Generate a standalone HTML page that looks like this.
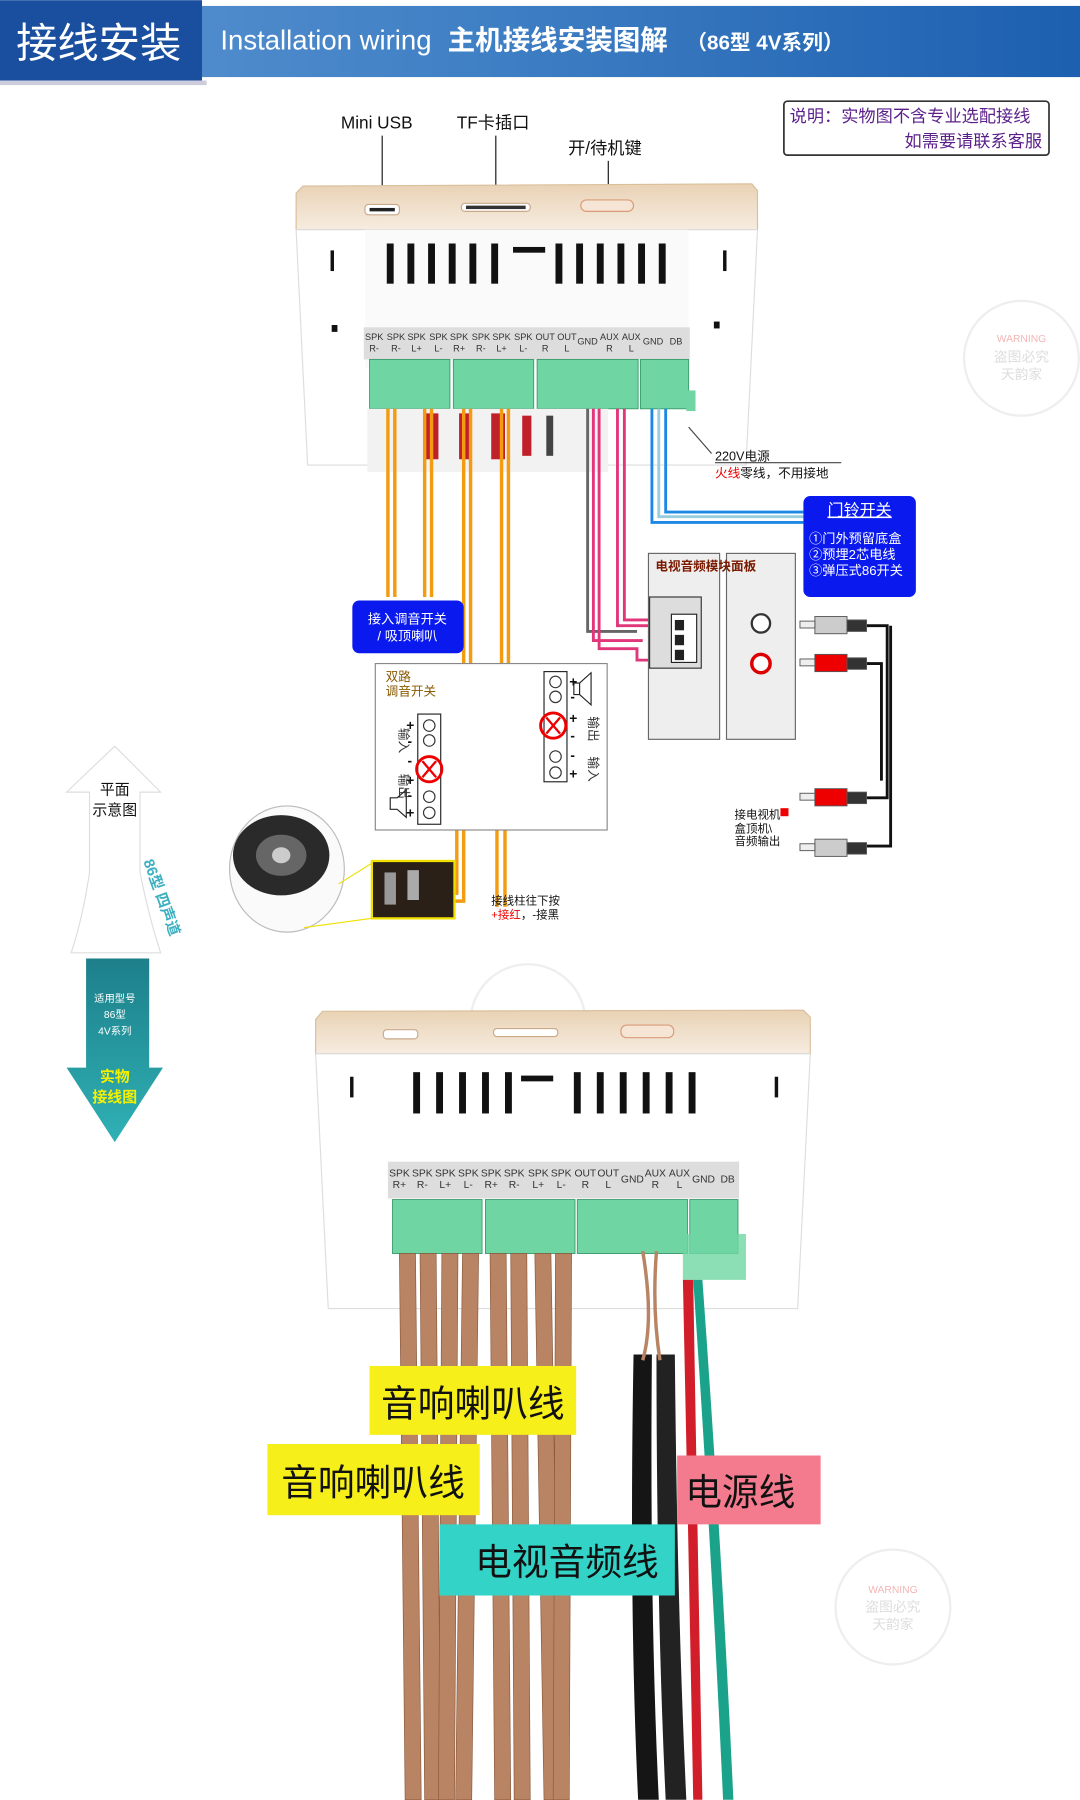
<!DOCTYPE html>
<html><head><meta charset="utf-8"><style>
html,body{margin:0;padding:0;background:#fff;width:1080px;height:1800px;overflow:hidden}
svg{display:block}
text{font-family:"Liberation Sans","Noto Sans CJK SC",sans-serif}
</style></head><body>
<svg width="1080" height="1800" viewBox="0 0 941 1568" xmlns="http://www.w3.org/2000/svg">
<defs>
<linearGradient id="hb" x1="0" x2="1"><stop offset="0" stop-color="#5a94d2"/><stop offset="0.45" stop-color="#3f7fc4"/><stop offset="1" stop-color="#1d5fb0"/></linearGradient>
<linearGradient id="gold" x1="0" y1="0" x2="0" y2="1"><stop offset="0" stop-color="#e9d2b5"/><stop offset="1" stop-color="#f6ece0"/></linearGradient>
<linearGradient id="tealarr" x1="0" y1="0" x2="0" y2="1"><stop offset="0" stop-color="#1d7f8a"/><stop offset="1" stop-color="#2fb1b5"/></linearGradient>
</defs>
<!-- header -->
<rect x="0" y="5" width="941" height="62" fill="url(#hb)"/>
<rect x="0" y="0" width="176" height="70" fill="#1a4f9f"/>
<rect x="0" y="70" width="180" height="4" fill="#ccd"/>
<text x="14" y="50" font-size="36" fill="#fff">接线安装</text>
<text x="192" y="43" font-size="24" fill="#fff">Installation wiring</text>
<text x="390" y="43" font-size="24" font-weight="bold" fill="#fff">主机接线安装图解</text>
<text x="598" y="43" font-size="18" font-weight="bold" fill="#fff">（86型 4V系列）</text>
<!-- note -->
<rect x="683" y="88" width="231" height="47" rx="3" fill="#fff" stroke="#333" stroke-width="1.5"/>
<text x="688" y="106" font-size="15" fill="#5b1f8a">说明：实物图不含专业选配接线</text>
<text x="908" y="128" font-size="15" fill="#5b1f8a" text-anchor="end">如需要请联系客服</text>
<!-- labels -->
<text x="297" y="112" font-size="15" fill="#111">Mini USB</text>
<text x="398" y="112" font-size="15" fill="#111">TF卡插口</text>
<text x="495" y="134" font-size="15" fill="#111">开/待机键</text>
<line x1="333" y1="118" x2="333" y2="182" stroke="#111"/>
<line x1="432" y1="118" x2="432" y2="178" stroke="#111"/>
<line x1="530" y1="140" x2="530" y2="180" stroke="#111"/>
<!-- device 1 -->
<polygon points="258,168 264,162 655,160 660,166 660,200 258,200" fill="url(#gold)" stroke="#d9bf9a"/>
<rect x="318" y="178" width="30" height="9" rx="3" fill="#fff" stroke="#c9a98a"/><rect x="322" y="181" width="22" height="3" fill="#222"/>
<rect x="402" y="177" width="60" height="7" rx="3" fill="#fff" stroke="#c9a98a"/><rect x="406" y="179" width="52" height="3" fill="#333"/>
<rect x="506" y="174" width="46" height="10" rx="5" fill="#f6e4d4" stroke="#d99c7a"/>
<polygon points="258,200 660,200 650,405 268,405" fill="#fff" stroke="#ddd"/>
<rect x="318" y="200" width="282" height="120" fill="#fafafa"/>
<g fill="#111">
<rect x="337" y="212" width="6" height="35"/><rect x="355" y="212" width="6" height="35"/><rect x="373" y="212" width="6" height="35"/><rect x="391" y="212" width="6" height="35"/><rect x="409" y="212" width="6" height="35"/><rect x="428" y="212" width="6" height="35"/>
<rect x="447" y="215" width="28" height="5"/>
<rect x="484" y="212" width="6" height="35"/><rect x="502" y="212" width="6" height="35"/><rect x="520" y="212" width="6" height="35"/><rect x="538" y="212" width="6" height="35"/><rect x="556" y="212" width="6" height="35"/><rect x="574" y="212" width="6" height="35"/>
<rect x="288" y="218" width="3" height="18"/><rect x="630" y="218" width="3" height="18"/>
<rect x="289" y="283" width="5" height="6"/><rect x="622" y="280" width="5" height="6"/>
</g>
<rect x="317" y="285" width="284" height="28" fill="#ddd"/>
<g font-size="8" fill="#333" text-anchor="middle">
<text x="326" y="296">SPK</text><text x="326" y="306">R-</text>
<text x="345" y="296">SPK</text><text x="345" y="306">R-</text>
<text x="363" y="296">SPK</text><text x="363" y="306">L+</text>
<text x="382" y="296">SPK</text><text x="382" y="306">L-</text>
<text x="400" y="296">SPK</text><text x="400" y="306">R+</text>
<text x="419" y="296">SPK</text><text x="419" y="306">R-</text>
<text x="437" y="296">SPK</text><text x="437" y="306">L+</text>
<text x="456" y="296">SPK</text><text x="456" y="306">L-</text>
<text x="475" y="296">OUT</text><text x="475" y="306">R</text>
<text x="494" y="296">OUT</text><text x="494" y="306">L</text>
<text x="512" y="300">GND</text>
<text x="531" y="296">AUX</text><text x="531" y="306">R</text>
<text x="550" y="296">AUX</text><text x="550" y="306">L</text>
<text x="569" y="300">GND</text>
<text x="589" y="300">DB</text>
</g>
<g fill="#6fd6a3" stroke="#3a9c6a" stroke-width="0.8">
<rect x="322" y="313" width="70" height="43"/><rect x="395" y="313" width="70" height="43"/><rect x="468" y="313" width="88" height="43"/><rect x="558" y="313" width="42" height="43"/>
</g>
<rect x="598" y="340" width="8" height="18" fill="#6fd6a3"/>
<rect x="320" y="356" width="210" height="55" fill="#f2f2f2"/>
<g fill="#c0202a"><rect x="370" y="360" width="12" height="40"/><rect x="400" y="360" width="10" height="40"/><rect x="428" y="360" width="12" height="40"/><rect x="455" y="362" width="8" height="35"/><rect x="476" y="362" width="6" height="35" fill="#444"/></g>
<!-- orange wires -->
<g fill="none" stroke="#f39c12" stroke-width="3">
<path d="M338,356 V520"/><path d="M344,356 V520"/>
<path d="M370,356 V520"/><path d="M376,356 V520"/>
<path d="M404,356 V520 M404,520 V632 H390"/>
<path d="M410,356 V640 H390"/>
<path d="M437,356 V600 H433 V790"/><path d="M443,356 V606 H440 V790"/>
<path d="M454,600 H464 M454,606 H464"/>
<path d="M430,604 H470"/>
<path d="M384,693 H404 V785 H385"/><path d="M384,700 H398 V778 H385"/>
</g>
<!-- pink wires -->
<g fill="none" stroke-width="2.5">
<path d="M512,356 V550 H555" stroke="#666"/>
<path d="M517,356 V558 H560" stroke="#e2367a"/>
<path d="M522,356 V565 H555 V575 H565" stroke="#e2367a"/>
<path d="M538,356 V545 H565" stroke="#e2367a"/>
<path d="M544,356 V540 H565" stroke="#e2367a"/>
</g>
<!-- blue wires -->
<g fill="none" stroke-width="2.5">
<path d="M568,356 V455 H700" stroke="#1e88e5"/>
<path d="M574,356 V450 H700" stroke="#9cd"/>
<path d="M580,356 V446 H700" stroke="#1e88e5"/>
</g>
<!-- 220V -->
<line x1="600" y1="372" x2="620" y2="395" stroke="#444"/>
<line x1="623" y1="403" x2="733" y2="403" stroke="#444"/>
<text x="623" y="401" font-size="11" fill="#111">220V电源</text>
<text x="623" y="416" font-size="11" fill="#111"><tspan fill="#e00">火线</tspan>零线，不用接地</text>
<!-- doorbell box -->
<rect x="700" y="432" width="98" height="88" rx="6" fill="#0a1aef"/>
<text x="749" y="449" font-size="14" fill="#fff" text-anchor="middle" text-decoration="underline">门铃开关</text>
<text x="705" y="473" font-size="11.5" fill="#fff">①门外预留底盒</text>
<text x="705" y="487" font-size="11.5" fill="#fff">②预埋2芯电线</text>
<text x="705" y="501" font-size="11.5" fill="#fff">③弹压式86开关</text>
<!-- TV module -->
<rect x="565" y="482" width="62" height="162" fill="#eee" stroke="#666"/>
<rect x="633" y="482" width="60" height="162" fill="#eee" stroke="#666"/>
<text x="571" y="497" font-size="11" fill="#7a1a00" font-weight="bold">电视音频模块面板</text>
<rect x="566" y="520" width="45" height="62" fill="#ddd" stroke="#333"/>
<rect x="585" y="535" width="22" height="42" fill="#fff" stroke="#222"/>
<rect x="588" y="540" width="8" height="9" fill="#222"/><rect x="588" y="553" width="8" height="9" fill="#222"/><rect x="588" y="566" width="8" height="9" fill="#222"/>
<circle cx="663" cy="543" r="8" fill="#fff" stroke="#333" stroke-width="2"/>
<circle cx="663" cy="578" r="8" fill="#fff" stroke="#d00" stroke-width="3"/>
<!-- RCA -->
<g stroke="#111" stroke-width="2.5" fill="none"><path d="M755,545 H773 V695 H755"/><path d="M755,578 H768 V680"/><path d="M755,737 H776 V545"/></g>
<g stroke="#555" stroke-width="0.8">
<rect x="710" y="537" width="28" height="15" fill="#ccc"/><rect x="738" y="540" width="17" height="10" fill="#333"/><rect x="697" y="541" width="13" height="6" fill="#eee"/>
<rect x="710" y="570" width="28" height="15" fill="#e00"/><rect x="738" y="573" width="17" height="10" fill="#333"/><rect x="697" y="574" width="13" height="6" fill="#eee"/>
<rect x="710" y="687" width="28" height="15" fill="#e00"/><rect x="738" y="690" width="17" height="10" fill="#333"/><rect x="697" y="691" width="13" height="6" fill="#eee"/>
<rect x="710" y="731" width="28" height="15" fill="#ccc"/><rect x="738" y="734" width="17" height="10" fill="#333"/><rect x="697" y="735" width="13" height="6" fill="#eee"/>
</g>
<g font-size="10" fill="#111"><text x="640" y="713">接电视机</text><text x="640" y="725">盒顶机\</text><text x="640" y="736">音频输出</text></g>
<rect x="680" y="704" width="7" height="7" fill="#e00"/>
<!-- blue label -->
<rect x="307" y="523" width="97" height="46" rx="6" fill="#0a1aef"/>
<text x="355" y="543" font-size="11.5" fill="#fff" text-anchor="middle">接入调音开关</text>
<text x="355" y="558" font-size="11.5" fill="#fff" text-anchor="middle">/ 吸顶喇叭</text>
<!-- switch diagram -->
<rect x="327" y="578" width="202" height="145" fill="#fff" stroke="#888"/>
<text x="336" y="593" font-size="11" fill="#8a5a00">双路</text>
<text x="336" y="606" font-size="11" fill="#8a5a00">调音开关</text>
<rect x="364" y="622" width="20" height="96" fill="#fff" stroke="#222"/>
<g fill="none" stroke="#333"><circle cx="374" cy="632" r="5"/><circle cx="374" cy="645" r="5"/><circle cx="374" cy="694" r="5"/><circle cx="374" cy="708" r="5"/></g>
<circle cx="374" cy="670" r="11" fill="none" stroke="#e00" stroke-width="2.5"/>
<path d="M368,663 L380,677 M380,663 L368,677" stroke="#e00" stroke-width="2"/>
<g font-size="12" font-weight="bold" fill="#111"><text x="354" y="636">+</text><text x="355" y="650">-</text><text x="355" y="667">-</text><text x="354" y="684">+</text><text x="355" y="697">-</text><text x="354" y="712">+</text></g>
<rect x="474" y="585" width="20" height="96" fill="#fff" stroke="#222"/>
<g fill="none" stroke="#333"><circle cx="484" cy="594" r="5"/><circle cx="484" cy="607" r="5"/><circle cx="484" cy="659" r="5"/><circle cx="484" cy="673" r="5"/></g>
<circle cx="482" cy="632" r="11" fill="none" stroke="#e00" stroke-width="2.5"/>
<path d="M476,625 L488,639 M488,625 L476,639" stroke="#e00" stroke-width="2"/>
<path d="M340,695 H346 L354,688 V712 L346,705 H340 Z" fill="#fff" stroke="#222"/>
<path d="M505,595 V605 H500 V595 Z M505,595 L515,586 V614 L505,605" fill="#fff" stroke="#222"/>
<g font-size="12" font-weight="bold" fill="#111"><text x="496" y="598">+</text><text x="497" y="611">-</text><text x="496" y="630">+</text><text x="497" y="645">-</text><text x="497" y="662">-</text><text x="496" y="678">+</text></g>
<text x="337" y="635" font-size="11" fill="#333" transform="rotate(90 343 640)">输入</text>
<text x="337" y="675" font-size="11" fill="#333" transform="rotate(90 343 680)">输出</text>
<text x="502" y="625" font-size="11" fill="#333" transform="rotate(90 508 630)">输出</text>
<text x="502" y="660" font-size="11" fill="#333" transform="rotate(90 508 665)">输入</text>
<!-- speaker -->
<ellipse cx="250" cy="757" rx="50" ry="55" fill="#fafafa" stroke="#bbb"/>
<ellipse cx="245" cy="745" rx="42" ry="35" fill="#2a2a2a"/>
<ellipse cx="245" cy="745" rx="22" ry="18" fill="#666"/>
<ellipse cx="245" cy="745" rx="8" ry="7" fill="#ccc"/>
<rect x="324" y="750" width="72" height="50" fill="#2a2018" stroke="#f0e000" stroke-width="2"/>
<rect x="335" y="760" width="10" height="28" fill="#999"/><rect x="355" y="758" width="10" height="26" fill="#aaa"/>
<line x1="324" y1="752" x2="295" y2="770" stroke="#f0e000"/><line x1="324" y1="800" x2="265" y2="808" stroke="#f0e000"/>
<text x="428" y="788" font-size="10" fill="#111">接线柱往下按</text>
<text x="428" y="800" font-size="10" fill="#111"><tspan fill="#e00">+接红</tspan>，-接黑</text>
<!-- watermark circles -->
<circle cx="890" cy="312" r="50" fill="none" stroke="#eee" stroke-width="2"/>
<text x="890" y="298" font-size="9" fill="#f3b5b5" text-anchor="middle">WARNING</text>
<text x="890" y="315" font-size="12" fill="#ddd" text-anchor="middle">盗图必究</text>
<text x="890" y="330" font-size="12" fill="#ddd" text-anchor="middle">天韵家</text>
<circle cx="460" cy="890" r="50" fill="none" stroke="#eee" stroke-width="2"/>
<circle cx="778" cy="1400" r="50" fill="none" stroke="#eee" stroke-width="2"/>
<text x="778" y="1388" font-size="9" fill="#f3b5b5" text-anchor="middle">WARNING</text>
<text x="778" y="1404" font-size="12" fill="#ddd" text-anchor="middle">盗图必究</text>
<text x="778" y="1419" font-size="12" fill="#ddd" text-anchor="middle">天韵家</text>
<!-- left arrow -->
<path d="M100,650 L140,690 H122 V760 Q130,800 140,830 H62 Q72,800 78,760 V690 H58 Z" fill="#fff" stroke="#ddd"/>
<path d="M75,835 H130 V930 H142 L100,995 L58,930 H75 Z" fill="url(#tealarr)"/>
<text x="100" y="692" font-size="13" fill="#111" text-anchor="middle">平面</text>
<text x="100" y="710" font-size="13" fill="#111" text-anchor="middle">示意图</text>
<text x="90" y="740" font-size="13" font-weight="bold" fill="#3ab0c0" transform="rotate(70 100 770)">86型 四声道</text>
<text x="100" y="873" font-size="9" fill="#fff" text-anchor="middle">适用型号</text>
<text x="100" y="887" font-size="9" fill="#fff" text-anchor="middle">86型</text>
<text x="100" y="901" font-size="9" fill="#fff" text-anchor="middle">4V系列</text>
<text x="100" y="942" font-size="13" font-weight="bold" fill="#f5f000" text-anchor="middle">实物</text>
<text x="100" y="960" font-size="13" font-weight="bold" fill="#f5f000" text-anchor="middle">接线图</text>
<!-- device 2 -->
<polygon points="275,888 281,881 700,880 706,886 706,918 275,918" fill="url(#gold)" stroke="#d9bf9a"/>
<rect x="334" y="897" width="30" height="8" rx="3" fill="#fff" stroke="#c9a98a"/>
<rect x="430" y="896" width="56" height="7" rx="3" fill="#fff" stroke="#c9a98a"/>
<rect x="541" y="893" width="46" height="11" rx="5" fill="#f6e4d4" stroke="#d99c7a"/>
<polygon points="275,918 706,918 695,1140 286,1140" fill="#fff" stroke="#ddd"/>
<g fill="#111">
<rect x="360" y="934" width="6" height="36"/><rect x="380" y="934" width="6" height="36"/><rect x="400" y="934" width="6" height="36"/><rect x="420" y="934" width="6" height="36"/><rect x="440" y="934" width="6" height="36"/>
<rect x="454" y="937" width="28" height="5"/>
<rect x="500" y="934" width="6" height="36"/><rect x="520" y="934" width="6" height="36"/><rect x="540" y="934" width="6" height="36"/><rect x="560" y="934" width="6" height="36"/><rect x="580" y="934" width="6" height="36"/><rect x="600" y="934" width="6" height="36"/>
<rect x="305" y="938" width="3" height="18"/><rect x="675" y="938" width="3" height="18"/>
</g>
<rect x="338" y="1012" width="306" height="32" fill="#ddd"/>
<g font-size="9" fill="#333" text-anchor="middle">
<text x="348" y="1025">SPK</text><text x="348" y="1035">R+</text><text x="368" y="1025">SPK</text><text x="368" y="1035">R-</text>
<text x="388" y="1025">SPK</text><text x="388" y="1035">L+</text><text x="408" y="1025">SPK</text><text x="408" y="1035">L-</text>
<text x="428" y="1025">SPK</text><text x="428" y="1035">R+</text><text x="448" y="1025">SPK</text><text x="448" y="1035">R-</text>
<text x="469" y="1025">SPK</text><text x="469" y="1035">L+</text><text x="489" y="1025">SPK</text><text x="489" y="1035">L-</text>
<text x="510" y="1025">OUT</text><text x="510" y="1035">R</text><text x="530" y="1025">OUT</text><text x="530" y="1035">L</text>
<text x="551" y="1030">GND</text><text x="571" y="1025">AUX</text><text x="571" y="1035">R</text>
<text x="592" y="1025">AUX</text><text x="592" y="1035">L</text><text x="613" y="1030">GND</text><text x="634" y="1030">DB</text>
</g>
<g fill="#6fd6a3" stroke="#3a9c6a" stroke-width="0.8">
<rect x="342" y="1045" width="78" height="47"/><rect x="423" y="1045" width="78" height="47"/><rect x="503" y="1045" width="96" height="47"/><rect x="601" y="1045" width="42" height="47"/>
</g>
<rect x="595" y="1075" width="55" height="40" fill="#6fd6a3" opacity="0.8"/>
<!-- cables -->
<g fill="#b98463" stroke="#8a5a3f" stroke-width="0.6">
<path d="M348,1092 h14 l5,476 h-14 z"/><path d="M366,1092 h14 l4,476 h-14 z"/>
<path d="M385,1092 h14 l-3,476 h-14 z"/><path d="M403,1092 h14 l-6,476 h-14 z"/>
<path d="M427,1092 h14 l4,476 h-14 z"/><path d="M445,1092 h14 l3,476 h-14 z"/>
<path d="M466,1092 h14 l8,476 h-14 z"/><path d="M484,1092 h14 l-2,476 h-14 z"/>
</g>
<path d="M552,1180 Q548,1400 556,1568 H574 Q566,1400 568,1180 Z" fill="#151515"/>
<path d="M572,1180 Q572,1400 580,1568 H598 Q590,1400 588,1180 Z" fill="#222"/>
<path d="M595,1115 Q600,1350 604,1568 H612 Q608,1350 604,1115 Z" fill="#d21e2a"/>
<path d="M604,1115 Q620,1350 630,1568 H639 Q629,1350 612,1115 Z" fill="#1aa38a"/>
<path d="M560,1090 Q570,1150 560,1185 M572,1090 Q568,1140 575,1185" stroke="#b98463" stroke-width="3" fill="none"/>
<!-- labels -->
<rect x="322" y="1190" width="180" height="60" fill="#f6ef1a"/>
<text x="412" y="1234" font-size="32" fill="#111" text-anchor="middle">音响喇叭线</text>
<rect x="233" y="1258" width="185" height="62" fill="#f6ef1a"/>
<text x="325" y="1303" font-size="32" fill="#111" text-anchor="middle">音响喇叭线</text>
<rect x="383" y="1328" width="205" height="62" fill="#33d3c8"/>
<text x="494" y="1372" font-size="32" fill="#111" text-anchor="middle">电视音频线</text>
<rect x="590" y="1268" width="125" height="60" fill="#f47a8e"/>
<text x="645" y="1311" font-size="32" fill="#111" text-anchor="middle">电源线</text>
</svg>
</body></html>
